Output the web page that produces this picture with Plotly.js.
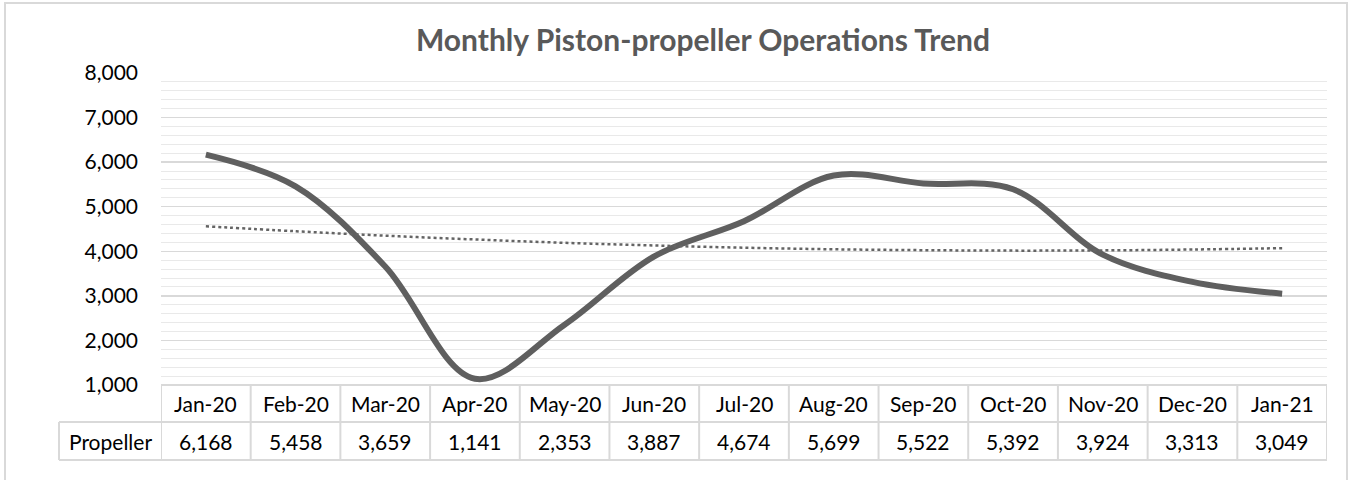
<!DOCTYPE html>
<html>
<head>
<meta charset="utf-8">
<script src="https://cdn.plot.ly/plotly-3.0.1.min.js"></script>
<style>
html,body{margin:0;padding:0;background:#fff;}
#chart{width:1351px;height:480px;}
</style>
</head>
<body>
<div id="chart"></div>
<script>
const months = ["Jan-20","Feb-20","Mar-20","Apr-20","May-20","Jun-20","Jul-20","Aug-20","Sep-20","Oct-20","Nov-20","Dec-20","Jan-21"];
const propeller = [6168,5458,3659,1141,2353,3887,4674,5699,5522,5392,3924,3313,3049];
const trendline = [4560,4450,4350,4265,4190,4130,4080,4045,4025,4015,4020,4040,4070];
const seriesName = "Propeller";
const yTicks = [1000,2000,3000,4000,5000,6000,7000,8000];

const FONT = "Lato, 'Open Sans', sans-serif";
const BORDER = "#d9d9d9";
const idx = months.map((m, i) => i);

// pixel geometry helpers (plot area 161..1327 x 73..385)
const plotH = 312, plotW = 1166;
const pyRow1 = -(422 - 385) / plotH;
const pyRow2 = -(460 - 385) / plotH;
const pxLeftCell = (59 - 161) / plotW;

const traces = [
  {
    x: idx, y: propeller, type: "scatter", mode: "lines",
    line: {color: "#5f5f5f", width: 6, shape: "spline", smoothing: 1},
    hoverinfo: "skip", showlegend: false
  },
  {
    x: idx, y: trendline, type: "scatter", mode: "lines",
    line: {color: "#646464", width: 2.5, dash: "dot", shape: "spline", smoothing: 1},
    hoverinfo: "skip", showlegend: false
  }
];

const shapes = [];
const annotations = [];
// chart outer border
shapes.push({type: "rect", xref: "paper", yref: "paper",
  x0: (5 - 161) / plotW, x1: (1347 - 161) / plotW,
  y0: (385 - 490) / plotH, y1: (385 - 3) / plotH,
  line: {color: BORDER, width: 2}, fillcolor: "rgba(0,0,0,0)", layer: "below"});
// table horizontal lines
shapes.push({type: "line", xref: "x", yref: "paper", x0: -0.5, x1: 12.5, y0: 0, y1: 0, line: {color: BORDER, width: 2}});
shapes.push({type: "line", xref: "paper", yref: "paper", x0: pxLeftCell, x1: 1, y0: pyRow1, y1: pyRow1, line: {color: BORDER, width: 2}});
shapes.push({type: "line", xref: "paper", yref: "paper", x0: pxLeftCell, x1: 1, y0: pyRow2, y1: pyRow2, line: {color: BORDER, width: 2}});
// vertical lines
for (let k = 0; k <= months.length; k++) {
  shapes.push({type: "line", xref: "x", yref: "paper", x0: k - 0.5, x1: k - 0.5, y0: 0, y1: pyRow2, line: {color: BORDER, width: 2}});
}
shapes.push({type: "line", xref: "paper", yref: "paper", x0: pxLeftCell, x1: pxLeftCell, y0: pyRow1, y1: pyRow2, line: {color: BORDER, width: 2}});

// table text
months.forEach((m, i) => {
  annotations.push({x: i, y: (0 + pyRow1) / 2, xref: "x", yref: "paper", text: m, showarrow: false,
    xanchor: "center", yanchor: "middle", font: {family: FONT, size: 21, color: "#000"}});
  annotations.push({x: i, y: (pyRow1 + pyRow2) / 2, xref: "x", yref: "paper", text: propeller[i].toLocaleString("en-US"), showarrow: false,
    xanchor: "center", yanchor: "middle", font: {family: FONT, size: 21, color: "#000"}});
});
annotations.push({x: pxLeftCell / 2, y: (pyRow1 + pyRow2) / 2, xref: "paper", yref: "paper", text: seriesName, showarrow: false,
  xanchor: "center", yanchor: "middle", font: {family: FONT, size: 21, color: "#000"}});

const layout = {
  width: 1351, height: 480,
  margin: {l: 161, r: 24, t: 73, b: 95},
  paper_bgcolor: "#fff", plot_bgcolor: "#fff",
  title: {text: "Monthly Piston-propeller Operations Trend", x: 703 / 1351, xref: "container", xanchor: "center",
    y: 1 - 40 / 480, yref: "container", yanchor: "middle",
    font: {family: FONT, size: 30, weight: 700, color: "#595959"}},
  xaxis: {range: [-0.5, 12.5], showticklabels: false, showgrid: false, zeroline: false, showline: false, ticks: "", fixedrange: true},
  yaxis: {range: [1000, 8000], tickvals: yTicks, tickformat: ",.0f", showgrid: true, gridcolor: "#d9d9d9", gridwidth: 1.5,
    minor: {dtick: 200, tick0: 1000, showgrid: true, gridcolor: "#e9e9e9", gridwidth: 1, ticks: ""},
    zeroline: false, showline: false, ticks: "", ticklabelstandoff: 22,
    tickfont: {family: FONT, size: 21, color: "#000"}, fixedrange: true},
  shapes: shapes,
  annotations: annotations,
  showlegend: false
};

Plotly.newPlot("chart", traces, layout, {displayModeBar: false, staticPlot: true});
</script>
</body>
</html>
